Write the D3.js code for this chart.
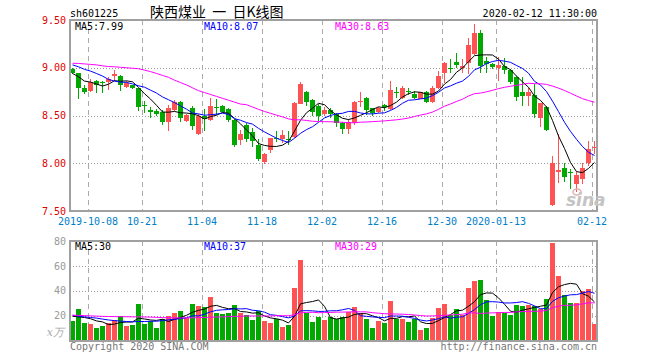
<!DOCTYPE html>
<html>
<head>
<meta charset="utf-8">
<script src="https://cdn.jsdelivr.net/npm/d3@7/dist/d3.min.js"></script>
<style>
  body { margin: 0; background: #fff; }
  svg text { font-family: "DejaVu Sans Mono", monospace; font-size: 10px; }
</style>
</head>
<body>
<div id="container"></div>
<script>
// trading days shown
const dates = [
  '2019-09-26', '2019-09-27', '2019-09-30',
  '2019-10-08', '2019-10-09', '2019-10-10', '2019-10-11',
  '2019-10-14', '2019-10-15', '2019-10-16', '2019-10-17', '2019-10-18',
  '2019-10-21', '2019-10-22', '2019-10-23', '2019-10-24', '2019-10-25',
  '2019-10-28', '2019-10-29', '2019-10-30', '2019-10-31', '2019-11-01',
  '2019-11-04', '2019-11-05', '2019-11-06', '2019-11-07', '2019-11-08',
  '2019-11-11', '2019-11-12', '2019-11-13', '2019-11-14', '2019-11-15',
  '2019-11-18', '2019-11-19', '2019-11-20', '2019-11-21', '2019-11-22',
  '2019-11-25', '2019-11-26', '2019-11-27', '2019-11-28', '2019-11-29',
  '2019-12-02', '2019-12-03', '2019-12-04', '2019-12-05', '2019-12-06',
  '2019-12-09', '2019-12-10', '2019-12-11', '2019-12-12', '2019-12-13',
  '2019-12-16', '2019-12-17', '2019-12-18', '2019-12-19', '2019-12-20',
  '2019-12-23', '2019-12-24', '2019-12-25', '2019-12-26', '2019-12-27',
  '2019-12-30', '2019-12-31', '2020-01-02', '2020-01-03',
  '2020-01-06', '2020-01-07', '2020-01-08', '2020-01-09', '2020-01-10',
  '2020-01-13', '2020-01-14', '2020-01-15', '2020-01-16', '2020-01-17',
  '2020-01-20', '2020-01-21', '2020-01-22', '2020-01-23',
  '2020-02-03', '2020-02-04', '2020-02-05', '2020-02-06', '2020-02-07',
  '2020-02-10', '2020-02-11', '2020-02-12'
];

// daily prices
const opens = [
  8.99, 8.945, 8.785, 8.757, 8.865, 8.855, 8.85, 8.913, 8.91, 8.80,
  8.816, 8.785, 8.611, 8.556, 8.55, 8.535, 8.434, 8.556, 8.639, 8.441,
  8.583, 8.31, 8.49, 8.451, 8.587, 8.604, 8.573, 8.45, 8.243, 8.396,
  8.323, 8.194, 8.014, 8.139, 8.26, 8.25, 8.25, 8.278, 8.625, 8.747,
  8.667, 8.604, 8.517, 8.556, 8.514, 8.42, 8.358, 8.42, 8.642, 8.688,
  8.576, 8.538, 8.615, 8.566, 8.75, 8.688, 8.76, 8.722, 8.677, 8.75,
  8.642, 8.792, 8.948, 8.993, 9.059, 9.0, 9.052, 9.139, 9.365, 9.07,
  9.035, 9.0, 9.017, 8.976, 8.906, 8.747, 8.705, 8.712, 8.479, 8.594,
  7.566, 7.906, 7.951, 7.906, 7.778, 7.83, 8.003, 8.167
];
const highs = [
  9.0, 8.95, 8.816, 8.88, 8.87, 8.86, 8.906, 8.98, 8.92, 8.86,
  8.82, 8.79, 8.65, 8.59, 8.566, 8.56, 8.61, 8.66, 8.65, 8.52,
  8.60, 8.52, 8.57, 8.68, 8.67, 8.61, 8.583, 8.465, 8.347, 8.42,
  8.365, 8.25, 8.108, 8.264, 8.34, 8.347, 8.34, 8.639, 8.847, 8.754,
  8.674, 8.618, 8.59, 8.58, 8.53, 8.427, 8.462, 8.653, 8.747, 8.694,
  8.583, 8.594, 8.618, 8.861, 8.80, 8.81, 8.792, 8.757, 8.747, 8.757,
  8.81, 8.965, 9.059, 9.087, 9.156, 9.094, 9.31, 9.462, 9.40, 9.11,
  9.052, 9.115, 9.104, 8.99, 8.913, 8.906, 8.792, 8.826, 8.635, 8.60,
  8.073, 8.306, 8.003, 7.94, 7.913, 8.003, 8.236, 8.236
];
const lows = [
  8.93, 8.67, 8.72, 8.747, 8.74, 8.74, 8.764, 8.86, 8.757, 8.79,
  8.775, 8.55, 8.524, 8.47, 8.497, 8.40, 8.34, 8.55, 8.434, 8.434,
  8.35, 8.30, 8.34, 8.44, 8.51, 8.53, 8.43, 8.174, 8.194, 8.226,
  8.174, 8.024, 7.997, 8.11, 8.222, 8.21, 8.19, 8.264, 8.618, 8.597,
  8.49, 8.44, 8.5, 8.476, 8.375, 8.306, 8.306, 8.40, 8.594, 8.503,
  8.496, 8.524, 8.55, 8.559, 8.688, 8.67, 8.712, 8.67, 8.67, 8.635,
  8.635, 8.774, 8.844, 8.948, 9.0, 8.948, 8.93, 9.13, 8.948, 8.948,
  8.983, 8.861, 8.93, 8.826, 8.653, 8.60, 8.60, 8.469, 8.375, 8.34,
  7.552, 7.795, 7.80, 7.733, 7.698, 7.785, 7.976, 8.097
];
const closes = [
  8.945, 8.785, 8.747, 8.851, 8.82, 8.84, 8.878, 8.934, 8.82, 8.844,
  8.788, 8.59, 8.60, 8.54, 8.517, 8.434, 8.583, 8.639, 8.469, 8.503,
  8.392, 8.49, 8.46, 8.597, 8.576, 8.538, 8.448, 8.194, 8.306, 8.257,
  8.233, 8.042, 8.094, 8.26, 8.25, 8.30, 8.24, 8.632, 8.826, 8.646,
  8.535, 8.5, 8.556, 8.52, 8.42, 8.358, 8.434, 8.642, 8.653, 8.559,
  8.524, 8.576, 8.594, 8.767, 8.74, 8.792, 8.75, 8.688, 8.747, 8.642,
  8.792, 8.913, 9.052, 8.983, 9.024, 9.017, 9.243, 9.365, 9.017, 9.035,
  9.007, 9.028, 8.976, 8.854, 8.698, 8.705, 8.747, 8.514, 8.628, 8.35,
  8.003, 7.93, 7.861, 7.896, 7.872, 7.951, 8.149, 8.174
];

// volume, 10k shares
const volumes = [
  15.7, 25.3, 14.4, 13.3, 10.1, 11.7, 14.4, 16.5, 19.7, 11.7,
  12.5, 29.3, 13.3, 15.7, 10.1, 17.1, 20, 22.1, 23.7, 18.4,
  29.3, 27.7, 27.2, 34.9, 22.1, 21.3, 22.1, 28.5, 22.4, 20.5,
  16.5, 23.7, 15.7, 14.4, 17.1, 10.9, 12.5, 42.4, 64.5, 22.4,
  14.9, 18.9, 16.5, 18.9, 17.1, 18.9, 22.9, 26.9, 21.9, 17.3,
  10.1, 15.7, 14.1, 31.7, 17.3, 17.3, 14.9, 17.3, 8.5, 10.1,
  18.1, 26.1, 29.3, 20.5, 25.3, 20.5, 42.1, 47.7, 48.5, 32.5,
  19.7, 22.9, 22.1, 20.5, 28.5, 27.7, 28.5, 27.7, 25.3, 33.3,
  78, 51.7, 36.5, 30.1, 30.1, 40, 41.3, 13.3
];

// averages before enough days are on screen
const ma5Lead = [8.94, 8.906, 8.86, 8.85];
const ma10Lead = [9.03, 9.01, 8.983, 8.965, 8.94, 8.913, 8.878, 8.86, 8.85];
const ma30Lead = [
  9.047, 9.045, 9.04, 9.035, 9.03, 9.02, 9.013, 9.01, 9.005, 9.0,
  8.995, 8.99, 8.975, 8.96, 8.94, 8.92, 8.90, 8.87, 8.845, 8.82,
  8.79, 8.76, 8.74, 8.72, 8.70, 8.68, 8.66, 8.64, 8.62
];
const volMa5Lead = [19.5, 19, 18.5, 17.5];
const volMa10Lead = [20.3, 19.5, 19, 18.5, 18, 17.2, 16.5, 16, 15.6];
const volMa30Lead = [
  20.3, 20.2, 20.0, 19.8, 19.6, 19.4, 19.3, 19.2, 19.2, 19.1,
  19.0, 19.0, 18.9, 18.8, 18.6, 18.4, 18.3, 18.2, 18.2, 18.2,
  18.3, 18.4, 18.5, 18.7, 18.9, 19.0, 19.2, 19.4, 19.5
];

// axis ticks and legend texts
const tickDates = ['2019-10-08', '2019-10-21', '2019-11-04', '2019-11-18', '2019-12-02',
                   '2019-12-16', '2019-12-30', '2020-01-13', '2020-02-12'];
const tickLabels = ['2019-10-08', '10-21', '11-04', '11-18', '12-02',
                    '12-16', '12-30', '2020-01-13', '02-12'];
const priceTicks = [7.5, 8, 8.5, 9, 9.5];
const volTicks = [20, 40, 60, 80];
const priceLegend = ['MA5:7.99', 'MA10:8.07', 'MA30:8.63'];
const volLegend = ['MA5:30', 'MA10:37', 'MA30:29'];

const w = 660;
const h = 360;
const left = 70;
const right = 597;
const slot = 6;
const bodyW = 5;
const red = '#ff5252';
const green = '#00a800';
const maColors = ['#000', '#0000ff', '#ff00ff'];

const movingAvg = (vals, n, lead) =>
  vals.map((v, i) => i < n - 1 ? lead[i] : d3.mean(vals.slice(i - n + 1, i + 1)));

const idx = d3.range(dates.length);
const up = idx.map(i => closes[i] >= opens[i]);

const xScale = d3.scaleBand()
  .domain(dates)
  .range([left, left + dates.length * slot]);

const yPrice = d3.scaleLinear().domain([7.5, 9.5]).range([211, 20]);
const yVol = d3.scaleLinear().domain([0, 80]).range([340.5, 241]);

const svg = d3.select('#container')
  .append('svg')
  .attr('width', w)
  .attr('height', h);

svg.append('clipPath').attr('id', 'clipP')
  .append('rect').attr('x', left).attr('y', 20).attr('width', right - left).attr('height', 191);
svg.append('clipPath').attr('id', 'clipV')
  .append('rect').attr('x', left).attr('y', 241).attr('width', right - left).attr('height', 100);

// grids
function grid(yScale, hVals, y0, y1) {
  svg.append('g').selectAll('line')
    .data(hVals).join('line')
    .attr('x1', left).attr('x2', right)
    .attr('y1', d => Math.round(yScale(d)) + 0.5)
    .attr('y2', d => Math.round(yScale(d)) + 0.5)
    .attr('stroke', '#999').attr('stroke-dasharray', '1,2');
  svg.append('g').selectAll('line')
    .data(tickDates).join('line')
    .attr('x1', d => xScale(d) + 0.5).attr('x2', d => xScale(d) + 0.5)
    .attr('y1', y0).attr('y2', y1)
    .attr('stroke', '#aaa').attr('stroke-dasharray', '5,4');
}
grid(yPrice, [8, 8.5, 9], 20, 211);
grid(yVol, [20, 40, 60], 241, 341);

// candles
const candles = svg.append('g').attr('clip-path', 'url(#clipP)').attr('shape-rendering', 'crispEdges');
candles.selectAll('line')
  .data(idx).join('line')
  .attr('x1', i => xScale(dates[i]) + 2.5)
  .attr('x2', i => xScale(dates[i]) + 2.5)
  .attr('y1', i => yPrice(highs[i]))
  .attr('y2', i => yPrice(lows[i]))
  .attr('stroke', i => up[i] ? red : green);
candles.selectAll('rect')
  .data(idx).join('rect')
  .attr('x', i => xScale(dates[i]))
  .attr('width', bodyW)
  .attr('y', i => yPrice(Math.max(opens[i], closes[i])))
  .attr('height', i => Math.max(1, Math.abs(yPrice(opens[i]) - yPrice(closes[i]))))
  .attr('fill', i => up[i] ? red : green);

// volume bars
svg.append('g').attr('clip-path', 'url(#clipV)').attr('shape-rendering', 'crispEdges')
  .selectAll('rect')
  .data(idx).join('rect')
  .attr('x', i => xScale(dates[i]))
  .attr('width', bodyW)
  .attr('y', i => yVol(volumes[i]))
  .attr('height', i => yVol(0) - yVol(volumes[i]))
  .attr('fill', i => up[i] ? red : green);

// moving average lines
function maLines(series, yScale, clip) {
  const line = d3.line()
    .x((v, i) => xScale(dates[i]) + 2.5)
    .y(v => yScale(v));
  svg.append('g').attr('clip-path', clip)
    .selectAll('path')
    .data(series).join('path')
    .attr('d', d => line(d))
    .attr('fill', 'none')
    .attr('stroke', (d, k) => maColors[k])
    .attr('stroke-width', 1);
}
maLines([movingAvg(closes, 5, ma5Lead), movingAvg(closes, 10, ma10Lead), movingAvg(closes, 30, ma30Lead)],
        yPrice, 'url(#clipP)');
maLines([movingAvg(volumes, 5, volMa5Lead), movingAvg(volumes, 10, volMa10Lead), movingAvg(volumes, 30, volMa30Lead)],
        yVol, 'url(#clipV)');

// frames
svg.append('rect').attr('x', left).attr('y', 20).attr('width', right - left).attr('height', 191)
  .attr('fill', 'none').attr('stroke', '#a0a0a0').attr('stroke-width', 2);
svg.append('rect').attr('x', left).attr('y', 241).attr('width', right - left).attr('height', 100)
  .attr('fill', 'none').attr('stroke', '#a0a0a0').attr('stroke-width', 2);

// axes
const yAxisP = svg.append('g')
  .attr('transform', `translate(${left}, 0)`)
  .call(d3.axisLeft(yPrice).tickValues(priceTicks).tickFormat(d3.format('.2f')).tickSize(0).tickPadding(4));
yAxisP.select('.domain').remove();
yAxisP.selectAll('text').attr('fill', '#e00000').style('font-size', '10px').style('font-family', '"DejaVu Sans Mono", monospace');

const yAxisV = svg.append('g')
  .attr('transform', `translate(${left}, 0)`)
  .call(d3.axisLeft(yVol).tickValues(volTicks).tickSize(0).tickPadding(4));
yAxisV.select('.domain').remove();
yAxisV.selectAll('text').attr('fill', '#999').style('font-size', '10px').style('font-family', '"DejaVu Sans Mono", monospace');

const xAxis = svg.append('g')
  .attr('transform', `translate(${-slot / 2}, 211)`)
  .call(d3.axisBottom(xScale).tickValues(tickDates).tickFormat((d, i) => tickLabels[i]).tickSize(0).tickPadding(7));
xAxis.select('.domain').remove();
xAxis.selectAll('text').attr('fill', '#0080c8').style('font-size', '10px').style('font-family', '"DejaVu Sans Mono", monospace');

svg.append('text').attr('x', 64).attr('y', 336).attr('text-anchor', 'end')
  .attr('fill', '#aaa').style('font-style', 'italic').style('font-size', '11px')
  .style('font-family', '"DejaVu Serif", serif').text('x万');

// legends
const legendX = [75, 204, 335];
svg.append('g').selectAll('text').data(priceLegend).join('text')
  .attr('x', (d, k) => legendX[k]).attr('y', 30)
  .attr('fill', (d, k) => maColors[k]).text(d => d);
svg.append('g').selectAll('text').data(volLegend).join('text')
  .attr('x', (d, k) => legendX[k]).attr('y', 250)
  .attr('fill', (d, k) => maColors[k]).text(d => d);

// header and footer
svg.append('text').attr('x', 70).attr('y', 17).attr('fill', '#000').text('sh601225');
svg.append('text').attr('x', 150).attr('y', 17).attr('fill', '#000')
  .attr('xml:space', 'preserve')
  .style('font-family', '"Noto Sans CJK SC", sans-serif').style('font-size', '14px')
  .text('陕西煤业  一  日K线图');
svg.append('text').attr('x', right).attr('y', 17).attr('text-anchor', 'end').attr('fill', '#000')
  .text('2020-02-12 11:30:00');
svg.append('text').attr('x', 70).attr('y', 350).attr('fill', '#777').text('Copyright 2020 SINA.COM');
svg.append('text').attr('x', right).attr('y', 350).attr('text-anchor', 'end').attr('fill', '#777')
  .text('http://finance.sina.com.cn');

// sina watermark
svg.append('ellipse').attr('cx', 577).attr('cy', 192).attr('rx', 4).attr('ry', 3)
  .attr('fill', 'none').attr('stroke', '#e0b0b0').attr('stroke-width', 1.5);
svg.append('text').attr('x', 566).attr('y', 206).attr('fill', '#c4c4c4')
  .style('font-family', '"DejaVu Sans", sans-serif').style('font-style', 'italic')
  .style('font-weight', 'bold').style('font-size', '17px').text('sina');
</script>
</body>
</html>
